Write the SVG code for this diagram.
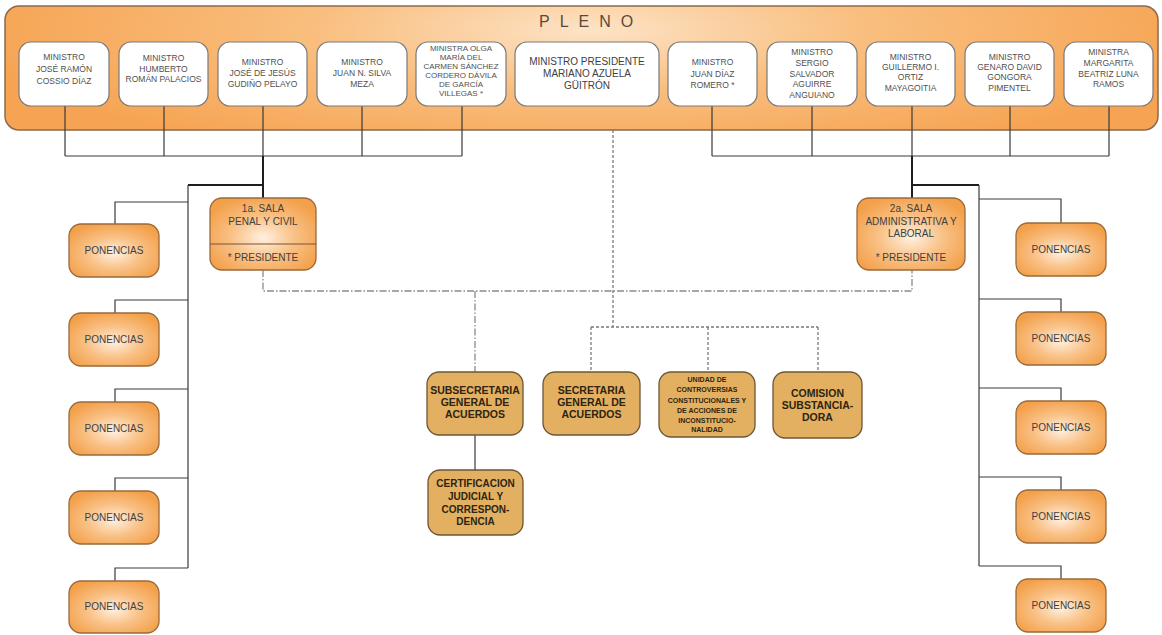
<svg xmlns="http://www.w3.org/2000/svg" width="1162" height="635" viewBox="0 0 1162 635">
  <defs>
    <radialGradient id="plenoFill" cx="590" cy="30" r="620" gradientUnits="userSpaceOnUse" gradientTransform="translate(590 30) scale(1 0.22) translate(-590 -30)">
      <stop offset="0" stop-color="#fde3c6"/>
      <stop offset="0.45" stop-color="#f9be7e"/>
      <stop offset="1" stop-color="#f6a453"/>
    </radialGradient>
    <radialGradient id="orangeFill" cx="0.5" cy="0.55" r="0.6">
      <stop offset="0" stop-color="#fff0e0"/>
      <stop offset="0.5" stop-color="#f9c186"/>
      <stop offset="1" stop-color="#f3a04a"/>
    </radialGradient>
    <style>
      .minister { fill: #ffffff; stroke: #7a7a7a; stroke-width: 1.2; }
      .orange { fill: url(#orangeFill); stroke: #9a6a3a; stroke-width: 1.3; }
      .tan { fill: #e3b062; stroke: #6e5535; stroke-width: 1.3; }
      .mtext { font-family: "Liberation Sans", Arial, sans-serif; font-size: 8.5px; fill: #505050; text-anchor: middle; }
      .ptext { font-family: "Liberation Sans", Arial, sans-serif; font-size: 10px; fill: #404040; text-anchor: middle; }
      .btext { font-family: "Liberation Sans", Arial, sans-serif; font-size: 10.5px; font-weight: bold; fill: #2e2410; text-anchor: middle; }
      .stext { font-family: "Liberation Sans", Arial, sans-serif; font-size: 7px; font-weight: bold; fill: #2e2410; text-anchor: middle; }
      .solid { fill: none; stroke: #3a3a3a; stroke-width: 1.2; }
      .thick { fill: none; stroke: #1e1e1e; stroke-width: 2; }
      .dashed { fill: none; stroke: #7a7a7a; stroke-width: 1.3; stroke-dasharray: 3 2; }
      .dashdot { fill: none; stroke: #8a8a8a; stroke-width: 1.3; stroke-dasharray: 7 2 1.5 2; }
    </style>
  </defs>

  <!-- Pleno frame -->
  <g id="pleno">
    <rect x="5" y="6" width="1153" height="124" rx="14" fill="url(#plenoFill)" stroke="#8a6a4e" stroke-width="1.5"/>
    <text x="539" y="27" font-family="Liberation Sans, Arial, sans-serif" font-size="16" letter-spacing="10" fill="#5a4a3a">PLENO</text>
  </g>

  <!-- Connectors -->
  <g id="connectors">
    <!-- left group of ministers -->
    <path class="solid" d="M65 106V156M164 106V156M263 106V156M362 106V156M462 106V156M65 156H462"/>
    <!-- right group of ministers -->
    <path class="solid" d="M712 106V156M812 106V156M912 106V156M1010 106V156M1109 106V156M712 156H1109"/>
    <!-- to the salas -->
    <path class="thick" d="M263 156V198M188 185H263"/>
    <path class="thick" d="M912 156V198M912 185H979"/>
    <!-- left ponencias tree -->
    <path class="solid" d="M188 185V568M188 202H115V224M188 300H115V313M188 389H115V402M188 478H115V491M188 568H115V581"/>
    <!-- right ponencias tree -->
    <path class="solid" d="M979 185V566M979 199H1061V223M979 299H1061V312M979 388H1061V401M979 477H1061V490M979 566H1061V579"/>
    <!-- salas to subsecretaria -->
    <path class="dashdot" d="M263 270V291H912V270M475 291V372"/>
    <!-- presidente to secretariat units -->
    <path class="dashed" d="M613 130V327M591 327H818M591 327V372M708 327V372M818 327V372"/>
    <!-- subsecretaria to certificacion -->
    <path class="solid" d="M475 435V470"/>
  </g>

  <!-- Ministers -->
  <g id="m1"><rect class="minister" x="19" y="42" width="90" height="64" rx="12"/>
    <text class="mtext"><tspan x="64" y="60">MINISTRO</tspan><tspan x="64" y="72">JOSÉ RAMÓN</tspan><tspan x="64" y="84">COSSIO DÍAZ</tspan></text></g>
  <g id="m2"><rect class="minister" x="119" y="42" width="89" height="64" rx="12"/>
    <text class="mtext"><tspan x="163.5" y="61">MINISTRO</tspan><tspan x="163.5" y="71.5">HUMBERTO</tspan><tspan x="163.5" y="82">ROMÁN PALACIOS</tspan></text></g>
  <g id="m3"><rect class="minister" x="218" y="42" width="89" height="64" rx="12"/>
    <text class="mtext"><tspan x="262.5" y="65">MINISTRO</tspan><tspan x="262.5" y="76">JOSÉ DE JESÚS</tspan><tspan x="262.5" y="87">GUDIÑO PELAYO</tspan></text></g>
  <g id="m4"><rect class="minister" x="317" y="42" width="90" height="64" rx="12"/>
    <text class="mtext"><tspan x="362" y="65">MINISTRO</tspan><tspan x="362" y="76">JUAN N. SILVA</tspan><tspan x="362" y="87">MEZA</tspan></text></g>
  <g id="m5"><rect class="minister" x="416" y="42" width="90" height="64" rx="12"/>
    <text class="mtext" style="font-size:8px"><tspan x="461" y="51">MINISTRA OLGA</tspan><tspan x="461" y="60">MARÍA DEL</tspan><tspan x="461" y="69">CARMEN SÁNCHEZ</tspan><tspan x="461" y="78">CORDERO DÁVILA</tspan><tspan x="461" y="87">DE GARCÍA</tspan><tspan x="461" y="96">VILLEGAS *</tspan></text></g>
  <g id="m6"><rect class="minister" x="515" y="42" width="144" height="64" rx="12"/>
    <text class="ptext"><tspan x="587" y="65">MINISTRO PRESIDENTE</tspan><tspan x="587" y="77">MARIANO AZUELA</tspan><tspan x="587" y="89">GÜITRÓN</tspan></text></g>
  <g id="m7"><rect class="minister" x="668" y="42" width="89" height="64" rx="12"/>
    <text class="mtext"><tspan x="712.5" y="65">MINISTRO</tspan><tspan x="712.5" y="77">JUAN DÍAZ</tspan><tspan x="712.5" y="88">ROMERO  *</tspan></text></g>
  <g id="m8"><rect class="minister" x="767" y="42" width="90" height="64" rx="12"/>
    <text class="mtext"><tspan x="812" y="55">MINISTRO</tspan><tspan x="812" y="66">SERGIO</tspan><tspan x="812" y="77">SALVADOR</tspan><tspan x="812" y="87">AGUIRRE</tspan><tspan x="812" y="98">ANGUIANO</tspan></text></g>
  <g id="m9"><rect class="minister" x="866" y="42" width="89" height="64" rx="12"/>
    <text class="mtext"><tspan x="910.5" y="60">MINISTRO</tspan><tspan x="910.5" y="70">GUILLERMO I.</tspan><tspan x="910.5" y="80">ORTIZ</tspan><tspan x="910.5" y="91">MAYAGOITIA</tspan></text></g>
  <g id="m10"><rect class="minister" x="965" y="42" width="89" height="64" rx="12"/>
    <text class="mtext"><tspan x="1009.5" y="60">MINISTRO</tspan><tspan x="1009.5" y="70">GENARO DAVID</tspan><tspan x="1009.5" y="80">GONGORA</tspan><tspan x="1009.5" y="91">PIMENTEL</tspan></text></g>
  <g id="m11"><rect class="minister" x="1064" y="42" width="89" height="64" rx="12"/>
    <text class="mtext"><tspan x="1108.5" y="55">MINISTRA</tspan><tspan x="1108.5" y="66">MARGARITA</tspan><tspan x="1108.5" y="77">BEATRIZ LUNA</tspan><tspan x="1108.5" y="87">RAMOS</tspan></text></g>

  <!-- Salas -->
  <g id="sala1">
    <rect class="orange" x="210" y="198" width="106" height="72" rx="12"/>
    <line x1="210" y1="244" x2="316" y2="244" stroke="#7a5530" stroke-width="1.2"/>
    <text class="ptext"><tspan x="263" y="212">1a. SALA</tspan><tspan x="263" y="225">PENAL Y CIVIL</tspan><tspan x="263" y="261">* PRESIDENTE</tspan></text>
  </g>
  <g id="sala2">
    <rect class="orange" x="857" y="198" width="108" height="72" rx="12"/>
    <text class="ptext"><tspan x="911" y="212">2a. SALA</tspan><tspan x="911" y="225">ADMINISTRATIVA Y</tspan><tspan x="911" y="237">LABORAL</tspan><tspan x="911" y="261">* PRESIDENTE</tspan></text>
  </g>

  <!-- Ponencias, left -->
  <g id="pl1"><rect class="orange" x="69" y="224" width="90" height="53" rx="12"/><text class="ptext" x="114" y="254">PONENCIAS</text></g>
  <g id="pl2"><rect class="orange" x="69" y="313" width="90" height="53" rx="12"/><text class="ptext" x="114" y="343">PONENCIAS</text></g>
  <g id="pl3"><rect class="orange" x="69" y="402" width="90" height="53" rx="12"/><text class="ptext" x="114" y="432">PONENCIAS</text></g>
  <g id="pl4"><rect class="orange" x="69" y="491" width="90" height="53" rx="12"/><text class="ptext" x="114" y="521">PONENCIAS</text></g>
  <g id="pl5"><rect class="orange" x="69" y="581" width="90" height="52" rx="12"/><text class="ptext" x="114" y="610">PONENCIAS</text></g>

  <!-- Ponencias, right -->
  <g id="pr1"><rect class="orange" x="1016" y="223" width="90" height="53" rx="12"/><text class="ptext" x="1061" y="253">PONENCIAS</text></g>
  <g id="pr2"><rect class="orange" x="1016" y="312" width="90" height="53" rx="12"/><text class="ptext" x="1061" y="342">PONENCIAS</text></g>
  <g id="pr3"><rect class="orange" x="1016" y="401" width="90" height="53" rx="12"/><text class="ptext" x="1061" y="431">PONENCIAS</text></g>
  <g id="pr4"><rect class="orange" x="1016" y="490" width="90" height="53" rx="12"/><text class="ptext" x="1061" y="520">PONENCIAS</text></g>
  <g id="pr5"><rect class="orange" x="1016" y="579" width="90" height="53" rx="12"/><text class="ptext" x="1061" y="609">PONENCIAS</text></g>

  <!-- Secretariat units -->
  <g id="subsecretaria"><rect class="tan" x="427" y="372" width="96" height="63" rx="12"/>
    <text class="btext"><tspan x="475" y="394">SUBSECRETARIA</tspan><tspan x="475" y="406">GENERAL DE</tspan><tspan x="475" y="418">ACUERDOS</tspan></text></g>
  <g id="secretaria"><rect class="tan" x="543" y="372" width="97" height="63" rx="12"/>
    <text class="btext"><tspan x="591.5" y="394">SECRETARIA</tspan><tspan x="591.5" y="406">GENERAL DE</tspan><tspan x="591.5" y="418">ACUERDOS</tspan></text></g>
  <g id="unidad"><rect class="tan" x="659" y="372" width="96" height="65" rx="12"/>
    <text class="stext"><tspan x="707" y="382">UNIDAD DE</tspan><tspan x="707" y="392">CONTROVERSIAS</tspan><tspan x="707" y="402.5">CONSTITUCIONALES Y</tspan><tspan x="707" y="413">DE ACCIONES DE</tspan><tspan x="707" y="423">INCONSTITUCIO-</tspan><tspan x="707" y="432">NALIDAD</tspan></text></g>
  <g id="comision"><rect class="tan" x="773" y="372" width="89" height="66" rx="12"/>
    <text class="btext"><tspan x="817.5" y="397">COMISION</tspan><tspan x="817.5" y="409">SUBSTANCIA-</tspan><tspan x="817.5" y="421">DORA</tspan></text></g>
  <g id="certificacion"><rect class="tan" x="428" y="470" width="95" height="65" rx="12"/>
    <text class="btext" style="font-size:10px"><tspan x="475.5" y="487">CERTIFICACION</tspan><tspan x="475.5" y="500">JUDICIAL Y</tspan><tspan x="475.5" y="513">CORRESPON-</tspan><tspan x="475.5" y="525">DENCIA</tspan></text></g>
</svg>
